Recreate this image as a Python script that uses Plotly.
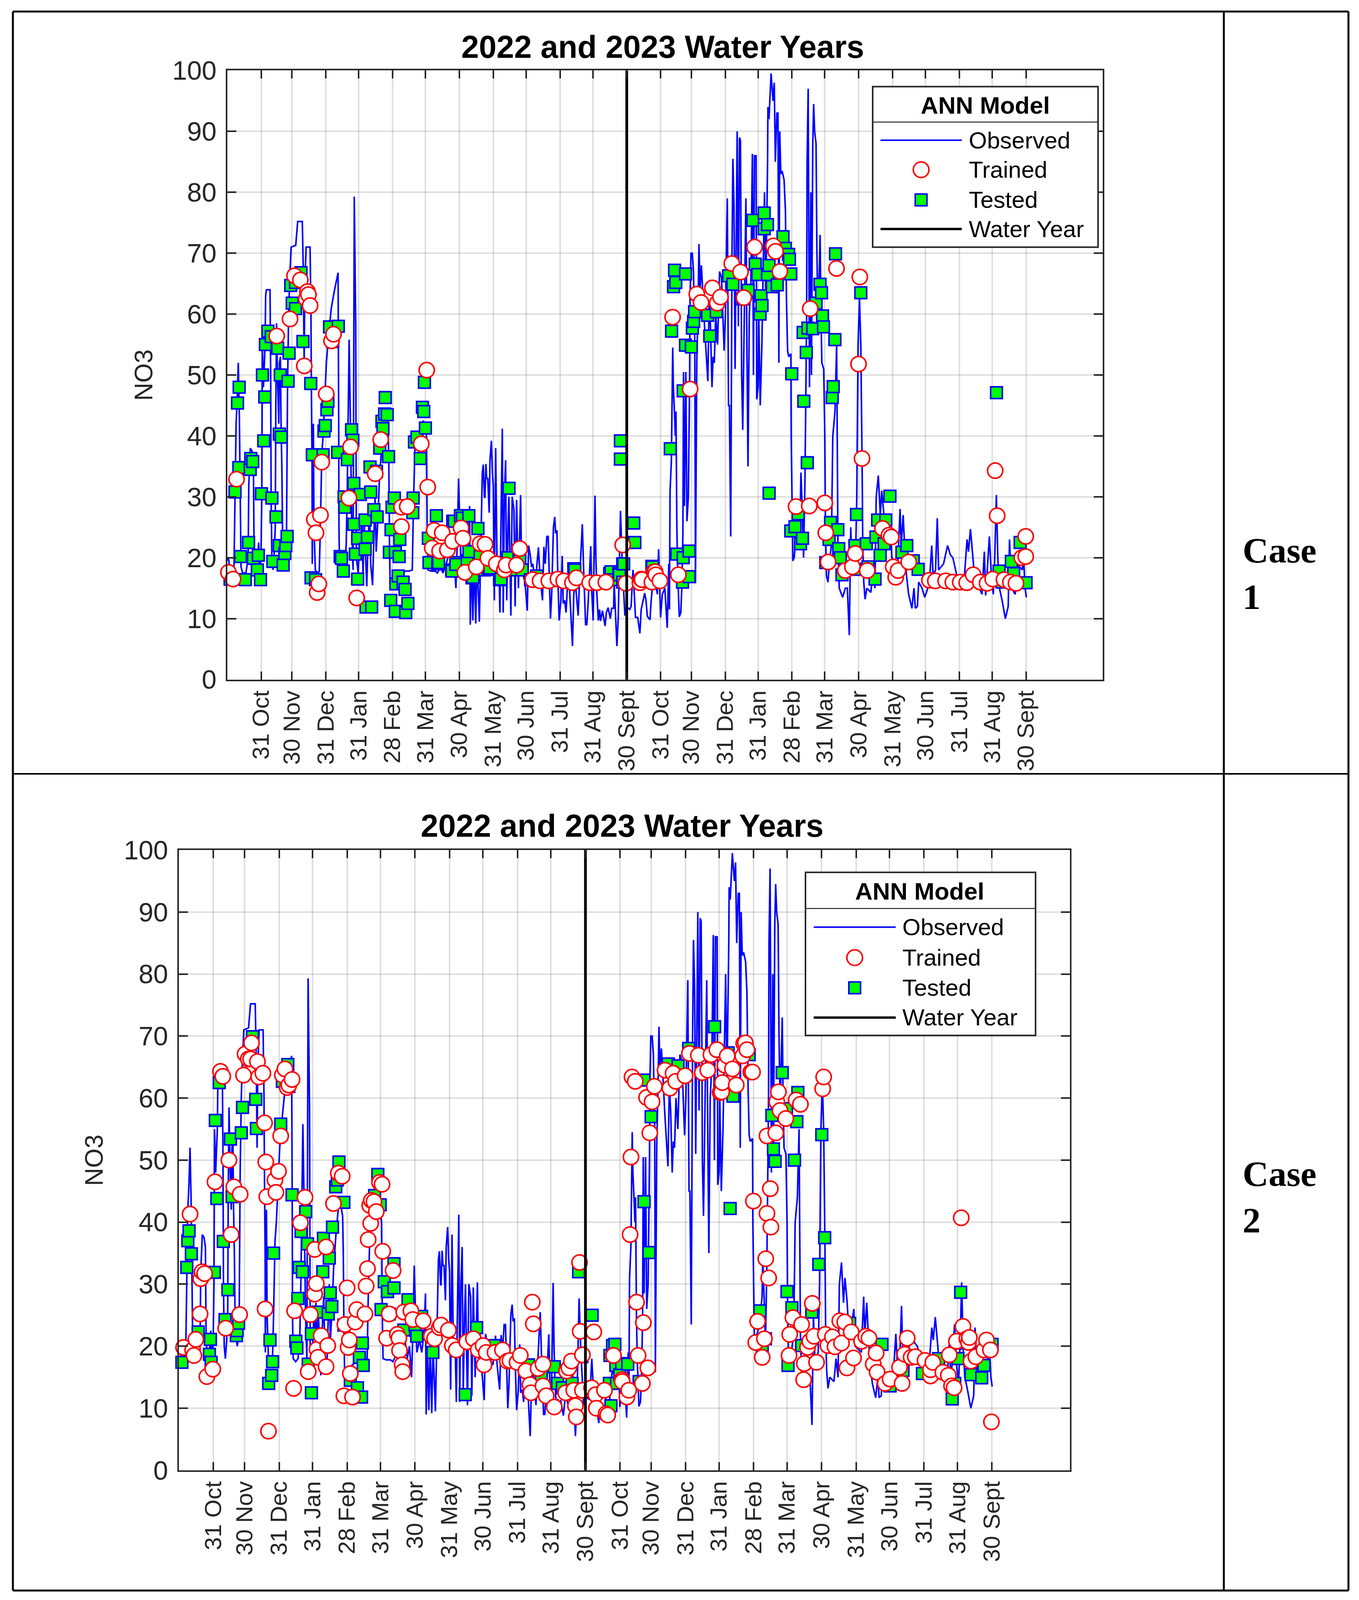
import plotly.graph_objects as go

# The reference is 3479x4563. The browser viewport is capped at 4096 px tall, so the figure is drawn
# at 3479x4096 and every vertical position is kept as the same fraction of the height as in the reference.
W, H = 3479, 4563
FIG_H = 4096
K = H / FIG_H

tick_days = [31,59,90,120,151,181,212,243,273,304,334,365,396,424,455,485,516,546,577,608,638,669,699,730]
tick_labels = ["31 Oct","30 Nov","31 Dec","31 Jan","28 Feb","31 Mar","30 Apr","31 May","30 Jun","31 Jul","31 Aug","30 Sept",
               "31 Oct","30 Nov","31 Dec","31 Jan","28 Feb","31 Mar","30 Apr","31 May","30 Jun","31 Jul","31 Aug","30 Sept"]
y_ticks = list(range(0, 101, 10))
water_year_day = 365

observed_wy2022 = [
(0,19.5),(1,20),(2,18.5),(4,17.5),(6,17.5),(7,30),(8,42),(9,46),(10,52),(11,43),(12,25),(12.5,18.5),(14,17.5),(17,17.5),(19,20),(19.6,32),(21,38),(22.6,37.5),(23.8,36),(24.4,22),(25.6,17.5),(27,18),(28.6,22.5),(29.5,18),(30.7,20),(31.5,30),(32,55),(33,48),(34.5,55),(35,63),(35.7,64),(39,64),(39.6,50),(40,30),(40.7,20),(41.7,18),(42.9,21),(43.8,25),(44.3,45),(45,58.5),(45.8,50),(47,42),(47.6,52),(48.5,53),(49,43),(49.8,35),(50.6,22),(52.4,20),(54,22),(55,48),(56,60),(57,66),(58.3,71),(62.5,71.3),(64.3,75.2),(68.5,75.2),(69.3,68),(70.2,52),(70.8,65),(72,71),(75.6,71),(76.4,60),(76.8,48),(77.4,35),(77.6,19),(78.6,42),(79.2,25),(80.4,18),(82,17.5),(84,17.7),(85,25),(86.3,37),(87.5,40),(88.7,45),(90.5,52),(92.3,56),(95,61),(98,64),(101.2,66.8),(101.8,40),(102,25),(102.6,18),(104.8,17.5),(107,18),(108.6,22),(109.5,30),(110.5,44),(111.3,55.8),(112.5,42),(113.7,25),(114.9,18),(116,79.3),(117.3,58.5),(117.9,20),(119.6,17.5),(121,24),(122,21),(123,27),(124,17),(125,26),(126,22),(127.4,15.3),(128.5,22),(130,28),(131,19),(132.7,15.5),(134,24),(135,30),(136,21),(137.5,26),(139,33),(141,38),(143,42),(145,43),(147,41),(147.6,35),(148.2,22),(148.8,15.5),(150,16),(152.4,16.5),(156,17),(159.5,17.5),(163,17.8),(166,17.8),(169,18),(170,28),(171.4,38),(173,39.5),(176,40.5),(179,42.5),(180.5,42),(182,40),(182.6,25),(183.3,18),
(186,17.8),(190,17.8),(192,17.5),(195,18.5),(197,17.5),(200,19),(203,21),(205,18),(207,20),(208.9,15),(210,22),(210.7,28),(211.3,33),(212.5,25),(213.7,19),(216,21),(218,19),(220,22),(221.4,28.5),(222,9),(223.2,20),(224.4,9.7),(225.6,20),(227,9.2),(228.2,20),(230.3,9.5),(231.5,20),(232.5,30),(233,34),(233.9,35.3),(234.9,30),(235.4,29.8),(236.3,35.4),(237,33),(238,33),(239.3,27.4),(240,36),(241.3,39.2),(242.2,34),(243,32),(244,13),(245.2,38),(246.4,20),(248,20),(249.1,11),(250,25),(251.3,41.2),(252.1,11),(253.2,30),(254.3,36),(255.3,13),(256.5,25),(257.3,30),(259.1,10.5),(260.3,30),(261.9,28),(263,12),(264.3,29.5),(266,15),(268,30.3),(269,18),(272,16),(274.1,11.3),(275.3,22),(276.8,20.5),(278,18.5),(279.1,19),(280.3,17.5),(282,17),(284.3,21.7),(285.7,17),(288,13),(289.3,21.8),(290.5,19),(292,23.5),(293.2,23.5),(294.4,15),(295.3,10),(296.4,14),(298,25),(299.2,26.7),(300,24),(301.2,24.5),(302,17),(303.2,9.7),(304.8,13),(306,20.3),(306.9,12.5),(308.3,13),(309.5,11),(310.7,15),(312.7,15),(315.4,5.5),(316.6,14),(318,16),(320.6,10.5),(321.8,16),(324.4,25.5),(325.6,18),(327.4,9),(328.5,9),(329.7,12.5),(332.1,21.9),(332.9,15),(334.3,9.7),(335,18),(336,30.2),(336.8,20),(337.7,14),(339,9.7),(340.2,11.5),(341,9.6),(342.8,11.3),(345.2,8.8),(346.4,11),(348,11.8),(350,10),(351.2,11.7),(353,11.7),(353.5,16),(356,5.5),(357.2,10),(359.3,27.7),(360.7,20),(361.9,15),(363.3,10.5),(364.9,12),
]
observed_wy2023 = [
(367.7,11.5),(369,12),(370.7,18),(371.9,14),(373,10.2),(375,10.2),(377,7.6),(378.2,11.5),(381.4,14.2),(382.6,13),(383.8,10.4),(386.2,9.8),(387.3,13),(389,16),(392,15),(393,14),(394.1,21.4),(395.9,10.2),(397.5,14),(399.8,15),(402,8.5),(403.4,19),(404,11.5),(404.6,31),(405.8,36),(407,54.5),(407.6,48),(408.8,43),(409.4,40),(410,44),(410.8,25),(411.5,18),(413,10.3),(414.4,11),(415.3,15),(416.3,24),(416.9,50.5),(417.7,28.5),(419,50.5),(420,26),(421.3,30),(422.5,50),(422.8,62),(423.7,70),(424.9,70),(426,67),(427.2,55),(427.8,15.8),(429,52),(430.2,62),(431,71.5),(432,64),(433.2,68),(435,62),(436.1,58),(439.1,49),(440.3,62),(441.5,58),(442.9,48),(443.9,53),(445,52),(446.3,60),(448,55),(449.8,67),(451.6,66),(454,54),(455.2,60),(456.9,79),(458,45),(458.8,45),(460,23.5),(461.2,70),(462,85.5),(463,78),(464,51),(465.9,90),(467,58),(468,89),(468.9,88.5),(469.5,70),(470,50),(471,41),(472.5,60),(473.9,79),(474.8,55),(475.8,35),(477,60),(478.4,65),(479.8,86.3),(480.8,50),(481.7,86),(483.2,86),(483.8,46),(485,48),(485.6,60),(487,45),(488.5,55),(490.9,80),(492,62),(493.7,85),(494,94),(495,92),(496.9,99.5),(498,97),(498.7,95),(499.8,98),(500.8,85),(502.2,93),(503.2,93),(504,52),(504.8,90),(505.8,83),(507,83.5),(508.8,82),(510,77),(511,62),(512,54),(513,53),(515,53.5),(515.3,40),(516,30),(516.8,19.5),(518,20),(519,22),(521,23),(523.6,28),(524.2,34),(525.4,28),(526.6,20),(527.8,32),(528.4,42),(528.7,50),(529.4,60),(529.8,85),(530.8,97),(531.7,60),(532,48),(533.2,80),(533.8,50),(535,88),(535.8,94.5),(536.7,90),(538,88),(538.8,70),(539.7,60),(540.3,62),(541.7,73),(542.5,60),(543.3,52),(545,51),(546,40),(546.6,25),(547.5,17),(548.9,16),(550.6,20),(552,22),(553.3,40),(554.3,42),(555.3,44),(556.8,55),(557.4,42),(558,22),(559.2,15),(562.3,13.5),(564.8,15),(566.6,15),(568.4,7.3),(569.7,25),(571,18),(574,19),(575.2,30),(576.4,55),(577.7,62.5),(578.9,55),(580.1,35),(580.7,22),(581.6,16),(582.8,13.2),(584.4,15),(588.1,14.3),(590,18),(591.8,15),(593,30),(594.9,33.5),(596.7,27),(598,31),(599.8,27.5),(602,21),(606,26),(607.2,20),(612.7,19),(614.8,28),(615.8,22),(617.6,27),(618.9,22),(620.7,17),(622.6,14),(625.6,11.7),(627.5,15),(628.7,11.7),(630.6,12),(631.8,16),(634.9,15),(637.3,13.5),(639.2,14.5),(641.6,16),(643.7,22),(645,17),(647.2,18),(648.8,26.5),(650,18),(654.5,19),(658.2,22),(660.7,20.5),(663,20),(665.6,18),(668,16),(670.5,17),(673,15.5),(676,23),(677.3,21),(679.1,24.7),(681,21),(682.8,17),(685.3,16),(689.6,14),(691.8,21),(693,13.8),(696.4,23.5),(698.2,17),(700,14),(701.3,20),(702.8,30.3),(704.1,20),(705.6,15),(708,13),(711,10),(713.6,12),(714.8,23),(716.7,15),(720,14),(721.6,19),(726.5,18),(727.7,20),(729,15),(730.2,13.5),
]

tested_case1 = [
(2.5,16.5),(7,30.8),(9.3,45.4),(10.5,34.8),(10.8,48),(12,20.2),(16.4,16.4),(19.4,22.5),(20.9,34.5),(21.4,36.3),(23.2,35.8),(23.8,19.9),(27.4,18),(28.3,20.4),(30.3,16.4),(31.2,30.5),(32.1,50),(33.3,39.2),(34.2,46.4),(34.8,55),(37.1,57.2),(40.1,56.3),(40.7,29.8),(41.6,19.4),(44.5,26.7),(46,54.4),(47.5,40.3),(47.5,22),(48.4,50),(49.3,39.8),(51,18.8),(52.5,20.7),(53.4,22),(54.6,23.5),(55.5,49),(56.4,53.6),(57.9,64.7),(59.3,61.8),(62.3,60.9),(62.3,65.2),(67.3,66.8),(69.1,55.5),(76.2,48.6),(76.5,16.7),(77.7,36.9),(80.6,16.4),(87.5,36.9),(88.3,40.8),(89.5,41.7),(91,44.3),(91.9,45.7),(93.4,57.9),(96.3,55.5),(100.8,37.3),(101.4,58),(103.1,20.2),(104.3,19.9),(106,17.8),(106.7,30),(107.3,28.3),(109.7,36.1),(113.5,41),(114.7,39.3),(115.6,25.5),(115.6,32.2),(117,20.6),(119.1,23.2),(119.1,16.5),(121.5,30.4),(125.9,26.2),(125.9,21.4),(126.8,11.9),(128,23.4),(130.4,34.9),(131,30.8),(131.9,11.9),(133.9,27.9),(136.3,34.2),(136.9,26.7),(139.3,38),(141.3,42.4),(142.2,41.2),(143.7,43.6),(144.3,46.3),(146.1,43.5),(147.3,36.6),(148.1,20.9),(149.3,13),(149.6,24.6),(150.5,28.3),(152.6,29.8),(153.5,20.9),(153.5,11.2),(154,15.7),(156.1,17),(157,20.2),(157.6,23),(160.6,16),(162.4,14.8),(163,11),(165,12.5),(169.5,27.4),(169.8,29.8),(171,39),(173.3,39.8),(176.3,36.3),(178.3,44.7),(179.5,44),(180.1,48.8),(181,41.3),(183.7,23.2),(184.3,19.2),(191,26.9),(192.2,19),(193,19.2),(205,18),(205.3,17.8),(206,26),(207.4,26),(208.8,19.2),(208.9,18.9),(213,26.9),(214.8,26.5),(219.2,19.5),(220.7,26.9),(220.8,21),(223.6,16.7),(224.4,16.8),(229,24.8),(231,20.2),(235,18),(238.4,18.1),(239.9,18.3),(248.8,16.4),(250,16.5),(256.5,20),(257.4,31.4),(261.3,18),(266.5,19.9),(267.2,19.5),(269.5,18),(277,16.4),(282.7,17),(282.8,16.4),(316.6,18.2),(317.5,18),(349.4,17.4),(350.6,17.7),(351,16.4),(357.7,17.4),(358.3,17.2),(359.2,39.2),(359.2,36.2),(361.3,16),(361.3,19),(362.2,19),(371.4,25.7),(372.4,22.5),(388,18.6),(388.5,18.5),
(404.8,37.9),(406,57.2),(407.8,64.5),(408.7,67.2),(409.8,65.2),(410.7,20.6),(416,16),(416.6,20),(416.6,47.4),(418.7,66.6),(418.7,54.9),(422,21.1),(422,16.9),(424,54.6),(425,57.7),(426.1,58.8),(427,60.4),(438.9,59.8),(440.9,56.4),(446.8,60.4),(458.1,66.3),(462,64.9),(471.4,62.5),(475.9,63.9),(480.3,75.4),(482.4,68.2),(484.7,66.5),(486.8,60),(487.7,63),(488.6,61.4),(490.6,76.6),(490.6,74),(493.6,74.7),(493.6,66.5),(495,68),(495.1,30.6),(498,64.5),(502.5,64.8),(507.8,72.7),(509.9,70.8),(512.9,69.8),(513.7,69),(514.9,66.6),(514.9,24.4),(515.8,50.2),(518.8,25.1),(521.7,27.2),(523.8,22.3),(525.6,23.2),(526.2,57),(526.8,45.7),(529.1,53.7),(530,35.6),(530.6,57.7),(535,57.6),(538,61.8),(541.6,64.9),(543,63.5),(543.9,59.7),(544.8,57.9),(546.9,19.2),(549.9,23),(551.3,25.8),(552.8,46.3),(553.7,48.1),(555.2,55.8),(555.8,69.9),(557.9,24.6),(558.7,21.5),(560.2,20),(561.7,17.2),(573.5,22),(573.5,18.1),(575,27.1),(578.9,63.5),(583.9,22.3),(585.4,18.5),(591.9,16.5),(592.8,23.4),(594.3,26.2),(596.6,20.4),(600.2,22.3),(601.7,26.2),(605.5,30.1),(616.5,20.9),(620.9,22),(626.8,19.5),(631.3,18.1),(702.9,47.1),(705.3,17.8),(708,16),(716.5,19.4),(718.6,17.4),(724.5,22.5),(729.9,15.9),
]
trained_case1 = [
(1,17.6),(5.2,16.5),(8.4,32.9),(45.1,56.4),(57.3,59.2),(61.4,66.3),(66.7,65.6),(70.3,51.5),(72.1,62.5),(73.2,63.7),(74.1,63.2),(75.6,61.4),(79.5,26.3),(81,24.1),(82.1,14.3),(83.6,15.7),(85.1,27),(86.3,35.7),(90.4,46.9),(95.2,55.6),(97,56.7),(111.1,29.8),(112.6,38.2),(118.2,13.4),(135.1,33.8),(140.2,39.4),(159.1,28.3),(159.1,25.1),(164.4,28.4),(177.2,38.7),(182.2,50.8),(183.1,31.6),(187.2,21.6),(189,24.5),(194,21.1),(196.4,24.1),(201.1,21.3),(205.9,22.7),(213.6,24.9),(215.3,23.2),(217.1,17.6),(227.5,18.5),(231,22.3),(235.5,22.2),(238.1,19.9),(245.8,19),(253.2,18),(254.7,18.8),(264.2,18.8),(267.2,21.5),(279,16.4),(285.8,16.2),(293.8,16.2),(302.1,16.5),(307.4,16.2),(315.4,15.9),(319,16.7),(331.1,15.9),(337.6,15.9),(345.9,16),(361.3,22.1),(364.2,15.8),(377,15.9),(378.2,16.5),(379,16.4),(388,16),(390,17.7),(390.9,17.7),(391.5,17.2),(395.3,16.2),
(406.9,59.5),(412.2,17.2),(422.9,47.7),(429,63.3),(432.9,61.9),(443.3,64.3),(447.7,61.8),(450.7,62.8),(461,68.3),(469,66.9),(472,62.7),(481.8,71),(499,71.2),(501,70.3),(504.9,67),(519.7,28.4),(531.8,28.5),(532.7,60.9),(546,29),(546.9,24.1),(549,19.3),(556.7,67.5),(564.7,17.9),(571.2,18.5),(573.8,20.7),(576.8,51.8),(578,66.1),(580,36.3),(584.8,17.9),(598.7,24.8),(604.6,23.7),(606.7,23.4),(608.5,18.5),(610.8,16.8),(612.9,17.9),(622.7,19.3),(641.6,16.3),(647,16.2),(656.4,16.2),(663,16),(669.8,16),(675.7,15.9),(681.6,17.2),(688.1,16),(694.3,15.8),(699.4,16.5),(701.7,34.3),(703.5,26.9),(709.7,16.4),(715.6,16),(720.7,15.8),(726,20),(729.6,20.2),(729.6,23.5),
]
tested_case2 = [
(2.7,17.4),(7.1,32.7),(8,37),(9.1,38.6),(11.2,34.9),(17.3,22.3),(27.4,18.7),(28.3,21.1),(28.9,17.4),(31.8,31.9),(32.7,56.4),(34.1,43.8),(36.2,62.5),(39.9,36.9),(41.4,24.3),(44,29.1),(46.3,53.4),(47.8,44.1),(51.6,21.7),(52.2,22.5),(53.6,23.7),(56,54.4),(57.1,58.5),(66.1,69.9),(69,59.8),(69.6,55.1),(80.6,14),(81.8,21),(83.3,15.3),(84.1,17.5),(85,35),(91.4,55.8),(92.9,62.7),(97.8,65.4),(98.7,61.9),(101.6,44.4),(105,20.8),(105.9,19.7),(106.8,27.7),(108,32.7),(109.7,38.5),(110.9,32),(113.8,41.7),(115.5,36.5),(116.1,17.1),(119,12.5),(119,22),(124.8,25.5),(129.2,32),(129.8,37.4),(134.1,25.2),(135,34.2),(135.9,28.6),(137.3,26.4),(137.9,39.2),(140.8,45.7),(142.3,46.8),(143.7,49.7),(148.1,43.2),(148.1,23.4),(153.9,14.5),(160.3,13.3),(162,18.2),(164,11.8),(164.7,20.5),(165.5,16.9),(175.7,44.3),(178.6,47.7),(180.7,42.8),(181.5,25.9),(184.4,30.4),(187.3,28.8),(188.8,25.2),(193.1,33.3),(193.1,29.4),(201.9,22.6),(205.7,27.5),(212,23.4),(213.5,21.6),(217.9,24.8),(228,19),(257.1,12.2),(267.3,23),(283.3,20.1),(313.8,17),(325.4,15.4),(337,16.7),(340,14),(344.3,13.3),(353,14),(358.9,32),(361.8,18.3),(371,25),(386.5,14),(387.9,10.4),(387,18.5),(389.4,20.1),(391.4,20.3),(392.3,16.9),(392.9,14),(395.8,15.4),(397.5,17.2),(403,17.1),
(413.2,14.3),(417.6,62.9),(417.6,43.3),(422,35.1),(424,57),(439.4,65.5),(448.1,65.2),(457.7,68),(481,71.5),(493.1,67.3),(494.9,42.2),(497.5,60.3),(512,67),(521.6,25.7),(523.7,19.8),(526.6,21.2),(532.4,57.2),(533.8,51.8),(535.3,49.8),(541.7,64.1),(545.5,58.3),(546,28.8),(546.9,16.9),(550.4,26.2),(552.7,50),(554.8,56.2),(555.7,60.9),(559.1,20.1),(568.2,25.5),(574.5,33.2),(577.2,54.1),(579.8,37.5),(602.2,23.7),(631.2,20.3),(638.5,13.6),(650.1,16.1),(667.6,15.6),(682.1,18),(694.3,11.5),(696.6,14),(698,20.5),(699.5,18),(701.9,28.7),(711.2,15.4),(720.8,14.9),(722.8,16.9),(730.1,20.3),
]
trained_case2 = [
(4.2,19.8),(10,41.3),(12.3,19.4),(13.5,18.5),(15.2,21.1),(19,25.2),(19.6,30.9),(20.8,32),(23.1,31.7),(25.1,15.1),(30.4,16.3),(32.4,46.5),(37.3,64.3),(39.4,63.5),(42,22.9),(44.9,50),(46.9,38),(49.3,45.7),(54.5,25.1),(55,44.5),(58,63.7),(59.4,67.1),(62.3,66.3),(64.4,66.3),(65.2,68.9),(70.5,65.9),(71.6,63.4),(75.4,64),(76.9,56),(77.4,26),(78,49.7),(78.9,44.1),(80.4,6.3),(86.2,46.8),(87.1,44.8),(89.4,48.2),(91.4,53.9),(92.9,63.7),(95.2,64.7),(97.2,61.7),(98.7,62.1),(101.6,63),(103,13.2),(103.9,25.7),(109.1,39.9),(113.2,44),(116.1,15.9),(118.1,25.1),(121.9,28.4),(121.9,35.6),(123.4,30.1),(124,19.5),(124.8,18.2),(127.7,21.7),(132.1,36),(132.1,16.7),(133.6,20.1),(138.8,43),(143.1,47.9),(146.6,47.4),(148.1,12),(149,23.5),(151,29.4),(151.9,19.8),(153,21),(153.9,15.6),(155.9,11.8),(158.3,23.9),(159.7,25.9),(167,25.2),(168.1,29.7),(169.3,32.5),(169.9,37.2),(171.3,42.7),(172.2,39.8),(172.8,43.5),(175.1,43.3),(177.2,41.7),(180.1,46.4),(182.4,46.1),(183,35.3),(186.5,21.3),(188.8,25.2),(192.3,32.2),(196.1,21.9),(197.5,21.3),(198.1,19.3),(200.4,17),(201,15.9),(201.9,25.5),(208.3,25.7),(210,24.3),(219.3,24.1),(226.6,21.6),(229.5,21.2),(233.8,23),(235.3,23.4),(242,22.6),(245.5,20.1),(249,19.4),(258.6,20.7),(264.4,21.2),(268.7,19.4),(273.1,20.1),(274,17),(276,19),(283.8,19),(290.5,19.4),(294.9,17.6),(297.2,17.7),(303.6,17.4),(306.5,18.5),(311.5,16),(315.2,13.8),(316.1,12.5),(317.3,27.1),(318.2,23.6),(322.5,16.4),(326.9,17.1),(326.9,13.6),(329.8,12),(337,10.2),(347.2,12.5),(348,16),(350.1,16.5),(352.4,17.6),(354.5,12.9),(356,10.4),(356.8,8.6),(359.7,33.5),(360.3,22.4),(362.3,18.6),(362.3,12.9),(370.5,13.3),(372.5,22.3),(374.2,12.2),(374.8,10),(382.1,12.9),(383.5,9.1),(385,8.9),(390,18.5),(390.2,18.5),(397.8,14.6),(398,14.3),(402.2,11.8),(403.9,12.9),
(405.1,38),(405.9,50.5),(406.8,63.4),(409.7,62.7),(410.9,27.1),(412.3,18.5),(416.1,14),(417,23.8),(419.9,60.1),(421,16.5),(422.8,54.4),(424.8,59.4),(426.9,61.9),(436.5,64.5),(440.8,61.6),(443.7,64),(446.1,62.7),(454.5,63.6),(458.3,67.2),(466.4,66.9),(469.9,64.1),(474.8,64.5),(477.7,67),(483,67.8),(485.9,60.9),(487.3,61),(487.9,62.5),(490.2,65.3),(492.3,66.8),(497,64.7),(500.4,62.1),(506.2,66.8),(507.1,68.8),(508.6,68.9),(510,67.8),(513.5,64.2),(515,64.2),(515.8,43.4),(517.9,20.6),(519.6,24),(523.7,18.2),(525.7,21.2),(526.9,34.1),(528,41.4),(528,53.9),(529.5,31),(531,45.4),(531.5,39.2),(535.9,54.4),(536.8,59.4),(538.2,61),(539.7,58),(544.9,56.7),(547.8,18.5),(548.4,21.9),(551.3,24.6),(554.2,59.7),(558,59),(559.1,23.5),(560.9,14.6),(561.5,17.2),(564.4,19.8),(566.4,20.8),(568.7,26.9),(570.2,21.6),(572.5,17.4),(578,61.5),(578.9,63.4),(580.4,21.9),(582.7,20.1),(586.8,21.5),(589.1,19.9),(593.4,24.1),(594.9,20.5),(597.8,23.9),(599.8,16.5),(603.6,22.3),(605.7,18.1),(612.9,20.8),(616.7,21.6),(619.6,21.3),(623.4,17.1),(626,18.9),(626.9,15.8),(634.1,14),(638.5,14.7),(647,16.6),(649.3,14),(651.6,18.7),(653.9,21.3),(657.4,18.2),(661.2,18.3),(669.9,17.7),(674.8,15.2),(674.8,16.2),(676.9,17.4),(685.9,15.8),(690.8,15.3),(691.7,18.6),(693.7,13.6),(696,13.3),(698.1,20.8),(702.4,40.7),(703.9,23.2),(707.4,21.2),(708.9,20.6),(709.7,21.4),(711.2,17.6),(715.5,18.3),(722.8,19.4),(725.1,21),(728.6,19.4),(729.5,7.8),
]

DARK = "#262626"
BLUE = "#0000ff"
GREEN = "#00ff00"
RED = "#ff0000"
GRID = "rgba(38,38,38,0.15)"
SANS = "Liberation Sans"
SERIF = "Liberation Serif"

observed = observed_wy2022 + observed_wy2023

def px_x(v): return v / W
def px_y(v): return 1 - v / H

panels = [
    dict(ax="", L=582, R=2823, T=201, B=1938, tested=tested_case1, trained=trained_case1,
         title_x=1696, title_y=134, nox=368, box=(2234, 2811, 247, 705), sep=348,
         rows=(400, 484, 570, 653), samp=(2254, 2462), txt=2478, head=(2522, 300),
         case=(3179, 1570, 1702), label="1"),
    dict(ax="2", L=458, R=2739, T=2424, B=4193, tested=tested_case2, trained=trained_case2,
         title_x=1592, title_y=2355, nox=241, box=(2062, 2651, 2488, 2953), sep=2591,
         rows=(2644, 2731, 2817, 2902), samp=(2083, 2293), txt=2308, head=(2354, 2542),
         case=(3179, 3348, 3480), label="2"),
]

fig = go.Figure()
shapes, annotations = [], []

def line(x0, y0, x1, y1, color, width):
    shapes.append(dict(type="line", xref="paper", yref="paper", x0=px_x(x0), y0=px_y(y0),
                       x1=px_x(x1), y1=px_y(y1), line=dict(color=color, width=width), layer="above"))

def text(s, x, y, size, bold=False, family=SANS, anchor="left", color="black", angle=0):
    annotations.append(dict(text=f"<b>{s}</b>" if bold else s, x=px_x(x), y=px_y(y), xref="paper", yref="paper",
                            xanchor=anchor, yanchor="middle", showarrow=False, textangle=angle,
                            font=dict(family=family, size=size, color=color)))

for i, p in enumerate(panels):
    xa, ya = "x" + p["ax"], "y" + p["ax"]
    fig.add_trace(go.Scatter(x=[d for d, _ in observed], y=[v for _, v in observed], mode="lines", name="Observed",
                             line=dict(color=BLUE, width=4), xaxis=xa, yaxis=ya, showlegend=False))
    fig.add_trace(go.Scatter(x=[d for d, _ in p["tested"]], y=[v for _, v in p["tested"]], mode="markers", name="Tested",
                             marker=dict(symbol="square", size=30, color=GREEN, line=dict(color=BLUE, width=4)),
                             xaxis=xa, yaxis=ya, showlegend=False, cliponaxis=False))
    fig.add_trace(go.Scatter(x=[d for d, _ in p["trained"]], y=[v for _, v in p["trained"]], mode="markers", name="Trained",
                             marker=dict(symbol="circle", size=39, color="white", line=dict(color=RED, width=4)),
                             xaxis=xa, yaxis=ya, showlegend=False, cliponaxis=False))
    fig.add_trace(go.Scatter(x=[water_year_day, water_year_day], y=[0, 100], mode="lines", name="Water Year",
                             line=dict(color="black", width=7), xaxis=xa, yaxis=ya, showlegend=False))

    axis_common = dict(showline=True, linewidth=4, linecolor=DARK, mirror="ticks", ticks="inside",
                       tickwidth=4, tickcolor=DARK, showgrid=True, gridcolor=GRID, gridwidth=4, zeroline=False,
                       automargin=False)
    fig.update_layout({
        "xaxis" + p["ax"]: dict(axis_common, domain=[px_x(p["L"]), px_x(p["R"])], range=[0, 800], anchor=ya, ticklen=21,
                                tickmode="array", tickvals=tick_days, ticktext=tick_labels, tickangle=-90,
                                ticklabelstandoff=0, tickfont=dict(family=SANS, size=60, color=DARK)),
        "yaxis" + p["ax"]: dict(axis_common, domain=[px_y(p["B"]), px_y(p["T"])], range=[0, 100], anchor=xa, ticklen=23,
                                tickmode="array", tickvals=y_ticks, ticklabelstandoff=10,
                                tickfont=dict(family=SANS, size=68, color=DARK)),
    })

    text("2022 and 2023 Water Years", p["title_x"], p["title_y"], 81, bold=True, anchor="center")
    text("NO3", p["nox"], (p["T"] + p["B"]) / 2, 64, anchor="center", color=DARK, angle=-90)

    bl, br, bt, bb = p["box"]
    shapes.append(dict(type="rect", xref="paper", yref="paper", x0=px_x(bl), x1=px_x(br), y0=px_y(bb), y1=px_y(bt),
                       fillcolor="white", line=dict(color=DARK, width=4), layer="above"))
    line(bl, p["sep"], br, p["sep"], DARK, 2.5)
    s0, s1 = p["samp"]
    r1, r2, r3, r4 = p["rows"]
    mid = (s0 + s1) / 2
    line(s0, r1, s1, r1, BLUE, 4)
    line(s0, r4, s1, r4, "black", 6)
    shapes.append(dict(type="circle", xref="paper", yref="paper", x0=px_x(mid - 20), x1=px_x(mid + 20),
                       y0=px_y(r2 + 20 * K), y1=px_y(r2 - 20 * K), fillcolor="white", line=dict(color=RED, width=4), layer="above"))
    shapes.append(dict(type="rect", xref="paper", yref="paper", x0=px_x(mid - 15), x1=px_x(mid + 15),
                       y0=px_y(r3 + 15 * K), y1=px_y(r3 - 15 * K), fillcolor=GREEN, line=dict(color=BLUE, width=4), layer="above"))
    text("ANN Model", p["head"][0], p["head"][1], 62, bold=True, anchor="center")
    for name, row in zip(["Observed", "Trained", "Tested", "Water Year"], p["rows"]):
        text(name, p["txt"], row, 60)

    cx, cy1, cy2 = p["case"]
    text("Case", cx, cy1, 92, bold=True, family=SERIF)
    text(p["label"], cx, cy2, 92, bold=True, family=SERIF)

# table frame
FL, FR, FT, FB = 33, 3452, 33, 4536
DIV, MID = 3133, 2207
line(FL, FT, FR, FT, "black", 5)
line(FL, FB, FR, FB, "black", 5)
line(FL, FT, FL, FB, "black", 5)
line(FR, FT, FR, FB, "black", 5)
line(DIV, FT, DIV, FB, "black", 5)
line(FL, MID, FR, MID, "black", 4)

fig.update_layout(width=W, height=FIG_H, autosize=False, margin=dict(l=0, r=0, t=0, b=0), paper_bgcolor="white",
                  plot_bgcolor="white", showlegend=False, shapes=shapes, annotations=annotations,
                  font=dict(family=SANS))

fig.write_html("out.html", config={"displayModeBar": False},
               post_script="document.body.style.margin='0';document.documentElement.style.overflow='hidden';")
